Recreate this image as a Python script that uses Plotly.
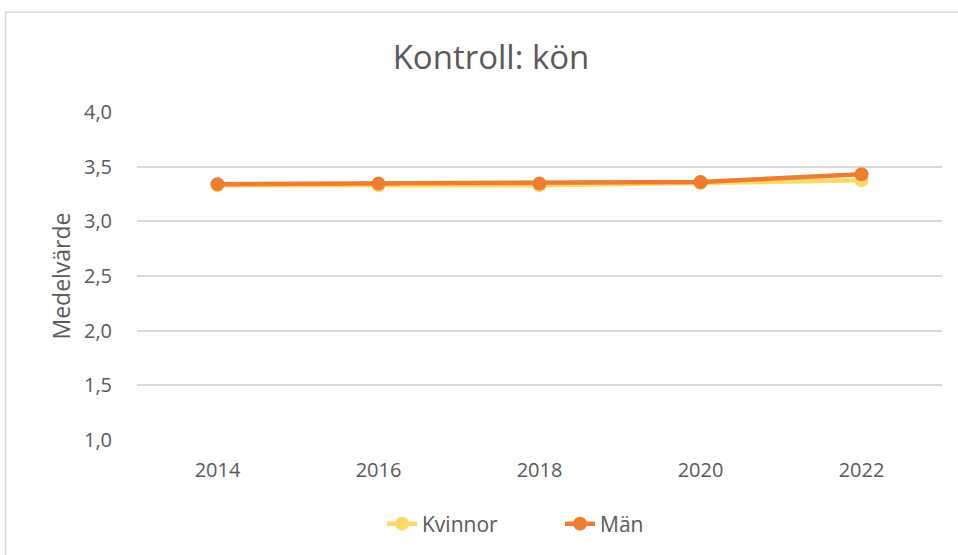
import plotly.graph_objects as go

years = ["2014", "2016", "2018", "2020", "2022"]
kvinnor = [3.33, 3.33, 3.33, 3.35, 3.375]
man = [3.34, 3.345, 3.345, 3.36, 3.43]
yticks = [1.0, 1.5, 2.0, 2.5, 3.0, 3.5, 4.0]
ytick_labels = ["1,0", "1,5", "2,0", "2,5", "3,0", "3,5", "4,0"]

FONT = "Open Sans, sans-serif"
GRAY = "#595959"

fig = go.Figure()
fig.add_trace(go.Scatter(x=years, y=kvinnor, name="Kvinnor", mode="lines+markers",
                         line=dict(color="#FFD966", width=4.5),
                         marker=dict(color="#FFD966", size=14)))
fig.add_trace(go.Scatter(x=years, y=man, name="Män", mode="lines+markers",
                         line=dict(color="#ED7D31", width=4.5),
                         marker=dict(color="#ED7D31", size=14)))

fig.update_layout(
    width=958, height=555,
    margin=dict(l=137, r=16, t=112, b=114),
    paper_bgcolor="white", plot_bgcolor="white",
    font=dict(family=FONT, color=GRAY, size=20),
    title=dict(text="Kontroll: kön", x=491 / 958, xanchor="center", y=1 - 57 / 555, yanchor="middle",
               font=dict(size=33, color=GRAY, family=FONT)),
    xaxis=dict(type="category", range=[-0.5, 4.5], showgrid=False, zeroline=False,
               showline=False, ticks="outside", ticklen=12, tickcolor="rgba(0,0,0,0)",
               tickfont=dict(size=20, color=GRAY)),
    yaxis=dict(range=[1, 4], tickvals=yticks, ticktext=ytick_labels,
               showgrid=True, gridcolor="#D9D9D9", gridwidth=1.5, zeroline=False,
               ticks="outside", ticklen=20, tickcolor="rgba(0,0,0,0)",
               tickfont=dict(size=20, color=GRAY),
               title=dict(text="Medelvärde", font=dict(size=23, color=GRAY), standoff=6)),
    legend=dict(orientation="h", x=(382 - 137) / 805, xanchor="left", y=(441 - 524) / 329, yanchor="middle",
                font=dict(size=21, color=GRAY), traceorder="normal", entrywidth=133,
                bgcolor="rgba(0,0,0,0)"),
    showlegend=True,
)

# outer chart border (top and left visible)
fig.add_shape(type="rect", xref="paper", yref="paper",
              x0=(5.5 - 137) / 805, x1=1.2, y0=-0.6, y1=(441 - 12) / 329,
              line=dict(color="#D9D9D9", width=1.5), layer="below")

fig.write_html("out.html", config={"displayModeBar": False},
               post_script="document.body.style.margin='0px';")
